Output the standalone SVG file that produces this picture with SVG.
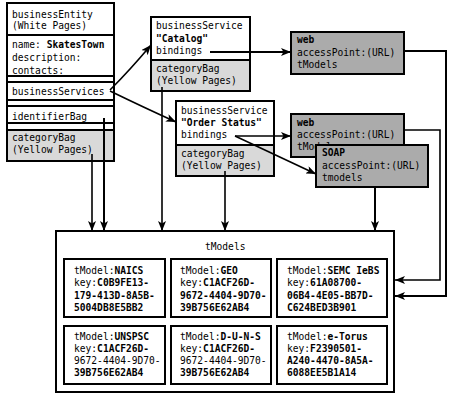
<svg xmlns="http://www.w3.org/2000/svg" width="460" height="400" viewBox="0 0 460 400">
<defs>
<marker id="ah" viewBox="0 0 10 8" refX="10" refY="4" markerWidth="10" markerHeight="8" markerUnits="userSpaceOnUse" orient="auto">
<path d="M0,0 L10,4 L0,8 L2.5,4 z" fill="#000"/>
</marker>
<style>
text{font-family:"DejaVu Sans Mono","Liberation Mono",monospace;font-size:9.6px;fill:#000}
.b{font-weight:bold}
.box{fill:#fff;stroke:#000;stroke-width:2}
.cat{fill:#d9d9d9;stroke:#000;stroke-width:2}
.acc{fill:#ababab;stroke:#000;stroke-width:2}
.ln{fill:none;stroke:#000;stroke-width:1.6}
.lnt{fill:none;stroke:#000;stroke-width:2}
</style>
</defs>
<rect width="460" height="400" fill="#fff"/>

<g id="businessEntity">
<rect class="box" x="7" y="3" width="107" height="32"/>
<text x="12" y="17.5">businessEntity</text>
<text x="12" y="29">(White Pages)</text>
<rect class="box" x="7" y="35" width="107" height="41"/>
<text x="12" y="48">name: <tspan class="b">SkatesTown</tspan></text>
<text x="12" y="61">description:</text>
<text x="12" y="73.5">contacts:</text>
<rect class="box" x="7" y="76" width="107" height="6"/>
<rect class="box" x="7" y="82" width="107" height="18"/>
<text x="12" y="94.5">businessServices</text>
<rect class="box" x="7" y="100" width="107" height="6"/>
<rect class="box" x="7" y="106" width="107" height="17"/>
<text x="12" y="120">identifierBag</text>
<rect class="box" x="7" y="123" width="107" height="7"/>
<rect class="cat" x="7" y="130" width="107" height="31"/>
<text x="12" y="141">categoryBag</text>
<text x="12" y="153">(Yellow Pages)</text>
</g>

<g id="serviceCatalog">
<rect class="box" x="151" y="17" width="99" height="43"/>
<text x="156" y="29">businessService</text>
<text x="156" y="42" class="b">"Catalog"</text>
<text x="156" y="54">bindings</text>
<rect class="cat" x="151" y="60" width="99" height="31"/>
<text x="156" y="72">categoryBag</text>
<text x="156" y="84">(Yellow Pages)</text>
</g>

<g id="serviceOrder">
<rect class="box" x="176" y="101" width="98" height="44"/>
<text x="181" y="114">businessService</text>
<text x="181" y="125.5" class="b">"Order Status"</text>
<text x="181" y="138">bindings</text>
<rect class="cat" x="176" y="145" width="98" height="31"/>
<text x="181" y="156.5">categoryBag</text>
<text x="181" y="168.5">(Yellow Pages)</text>
</g>

<g id="web1">
<rect class="acc" x="291" y="32" width="113" height="42"/>
<text x="297" y="43" class="b">web</text>
<text x="297" y="56">accessPoint:(URL)</text>
<text x="297" y="67.5">tModels</text>
</g>

<g id="web2">
<rect class="acc" x="291" y="114" width="113" height="43"/>
<text x="297" y="125.5" class="b">web</text>
<text x="297" y="138">accessPoint:(URL)</text>
<text x="297" y="150">tModels</text>
</g>

<g id="soap">
<rect class="acc" x="316" y="145" width="112" height="42"/>
<text x="322" y="156" class="b">SOAP</text>
<text x="322" y="168.5">accessPoint:(URL)</text>
<text x="322" y="180.5">tmodels</text>
</g>

<g id="tModels">
<rect class="box" x="56" y="231" width="338" height="161"/>
<text x="205" y="249.5">tModels</text>
</g>

<g id="tmNAICS">
<rect class="box" x="64" y="259" width="101" height="58"/>
<text x="74" y="274">tModel:<tspan class="b">NAICS</tspan></text>
<text x="74" y="286">key:<tspan class="b">C0B9FE13-</tspan></text>
<text x="74" y="298.5" class="b">179-413D-8A5B-</text>
<text x="74" y="310.5" class="b">5004DB8E5BB2</text>
</g>

<g id="tmGEO">
<rect class="box" x="171" y="259" width="100" height="58"/>
<text x="180" y="274">tModel:<tspan class="b">GEO</tspan></text>
<text x="180" y="286">key:<tspan class="b">C1ACF26D-</tspan></text>
<text x="180" y="298.5" class="b">9672-4404-9D70-</text>
<text x="180" y="310.5" class="b">39B756E62AB4</text>
</g>

<g id="tmSEMC">
<rect class="box" x="277" y="259" width="110" height="58"/>
<text x="287" y="274">tModel:<tspan class="b">SEMC IeBS</tspan></text>
<text x="287" y="286">key:<tspan class="b">61A08700-</tspan></text>
<text x="287" y="298.5" class="b">06B4-4E05-BB7D-</text>
<text x="287" y="310.5" class="b">C624BED3B901</text>
</g>

<g id="tmUNSPSC">
<rect class="box" x="64" y="326" width="101" height="58"/>
<text x="74" y="339.5">tModel:<tspan class="b">UNSPSC</tspan></text>
<text x="74" y="352">key:<tspan class="b">C1ACF26D-</tspan></text>
<text x="74" y="364">9672-4404-9D70-</text>
<text x="74" y="376" class="b">39B756E62AB4</text>
</g>

<g id="tmDUNS">
<rect class="box" x="171" y="326" width="100" height="58"/>
<text x="180" y="339.5">tModel:<tspan class="b">D-U-N-S</tspan></text>
<text x="180" y="352">key:<tspan class="b">C1ACF26D-</tspan></text>
<text x="180" y="364">9672-4404-9D70-</text>
<text x="180" y="376" class="b">39B756E62AB4</text>
</g>

<g id="tmTorus">
<rect class="box" x="277" y="326" width="110" height="58"/>
<text x="287" y="339.5">tModel:<tspan class="b">e-Torus</tspan></text>
<text x="287" y="352">key:<tspan class="b">F2390501-</tspan></text>
<text x="287" y="364" class="b">A240-4470-8A5A-</text>
<text x="287" y="376" class="b">6088EE5B1A14</text>
</g>

<g id="connectors">
<path class="ln" d="M110,90 Q130,70 151,45" marker-end="url(#ah)"/>
<path class="ln" d="M110,91 Q145,108 176,122" marker-end="url(#ah)"/>
<path class="lnt" d="M210,52 H291" marker-end="url(#ah)"/>
<path class="ln" d="M235,136 H291" marker-end="url(#ah)"/>
<path class="ln" d="M235,136 L316,174" marker-end="url(#ah)"/>
<path class="ln" d="M92,154 V231" marker-end="url(#ah)"/>
<path class="lnt" d="M104,118 V231" marker-end="url(#ah)"/>
<path class="ln" d="M162,87 V231" marker-end="url(#ah)"/>
<path class="ln" d="M225,171 V231" marker-end="url(#ah)"/>
<path class="lnt" d="M375,187 V231" marker-end="url(#ah)"/>
<path class="lnt" d="M404,51 H446 V296 H395" marker-end="url(#ah)"/>
<path class="ln" d="M404,130 H440 V280 H395" marker-end="url(#ah)"/>
</g>
</svg>
